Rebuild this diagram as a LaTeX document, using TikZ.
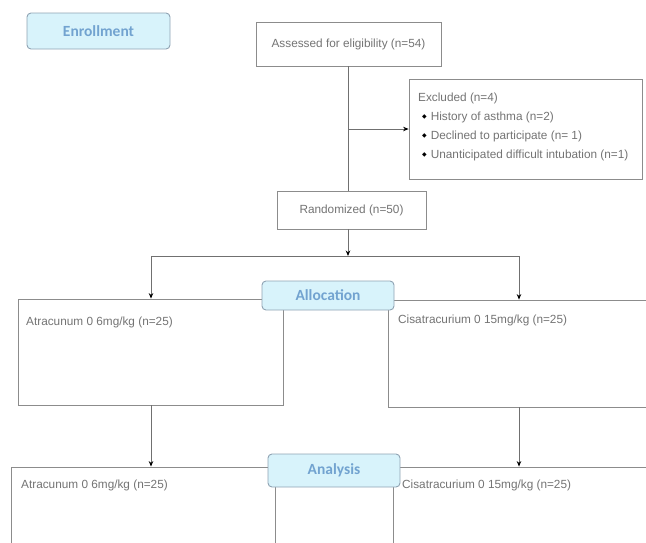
\documentclass[tikz,border=0pt]{standalone}
\usepackage{fontspec}
\setmainfont{Liberation Sans}
\newfontfamily\headfont{Carlito}
\newfontfamily\symfont{DejaVu Sans}
\usetikzlibrary{arrows.meta}
\definecolor{boxline}{HTML}{8C8C8C}
\definecolor{boxtext}{HTML}{747474}
\definecolor{headfill}{HTML}{D8F3FB}
\definecolor{headline}{HTML}{8FA3B3}
\definecolor{headtext}{HTML}{72A3D0}
\newcommand{\exclmark}{\hspace{4pt}\raisebox{1.8pt}{\textcolor{black}{\symfont\fontsize{6}{7}\selectfont ◆}}\hspace{4pt}}
\begin{document}
\begin{tikzpicture}[x=1pt, y=-1pt]
	\tikzstyle{flowbox}=[draw=boxline, line width=0.8pt, fill=white, inner sep=0pt]
	\tikzstyle{headbox}=[draw=headline, line width=0.9pt, fill=headfill, rounded corners=4pt, inner sep=0pt, text=headtext, font=\headfont\bfseries\fontsize{15.5}{18}\selectfont]
	\tikzstyle{boxlabel}=[text=boxtext, font=\fontsize{11.8}{14}\selectfont, inner sep=0pt, anchor=west]
	\tikzstyle{link}=[draw=boxline!80!black, line width=0.8pt]
	\tikzstyle{arrowlink}=[link, -{Stealth[length=5.5pt, width=4.5pt, black]}]
	\useasboundingbox (0,0) rectangle (646,542);
	\clip (0,0) rectangle (646,542);
	\draw 
	node[headbox, minimum width=143pt, minimum height=36pt](enroll)at(98.5,31){Enrollment}
	node[flowbox, minimum width=185pt, minimum height=44pt, text=boxtext, font=\fontsize{11.8}{14}\selectfont](assess)at(348.5,44){Assessed for eligibility (n=54)}
	node[flowbox, minimum width=233pt, minimum height=100pt](excl)at(525.5,129){}
	node[flowbox, minimum width=149pt, minimum height=38pt, text=boxtext, font=\fontsize{11.8}{14}\selectfont](rand)at(351.5,210){Randomized (n=50)};
	
	% excluded list
	\node[boxlabel, align=left](exclText)at(418,127){Excluded (n=4)\\[4.8pt]
		\exclmark History of asthma (n=2)\\[4.8pt]
		\exclmark Declined to participate (n= 1)\\[4.8pt]
		\exclmark Unanticipated difficult intubation (n=1)};
	
	\coordinate (split) at (348,256);
	\coordinate (splitL) at (151,256);
	\coordinate (splitR) at (519,256);
	\coordinate (exclsplit) at (split |- excl.west);
	
	\draw 
	node[flowbox, minimum width=265pt, minimum height=106pt](atraA)at(150.5,352){}
	node[flowbox, minimum width=272pt, minimum height=107pt](cisA)at(524,353.5){}
	node[flowbox, minimum width=264pt, minimum height=100pt](atraB)at(143,517){}
	node[flowbox, minimum width=267pt, minimum height=100pt](cisB)at(526.5,517){};
	
	\node[boxlabel](atraAText)at(26,322){Atracunum 0 6mg/kg (n=25)};
	\node[boxlabel](cisAText)at(398,320){Cisatracurium 0 15mg/kg (n=25)};
	\node[boxlabel](atraBText)at(21,485){Atracunum 0 6mg/kg (n=25)};
	\node[boxlabel](cisBText)at(402,485){Cisatracurium 0 15mg/kg (n=25)};
	
	\draw
	node[headbox, minimum width=132pt, minimum height=29pt](alloc)at(328,295.5){Allocation}
	node[headbox, minimum width=132pt, minimum height=33pt](analysis)at(334,470.5){Analysis};
	
	\draw[link](assess.south -| split)--(rand.north -| split);
	\draw[arrowlink](exclsplit)--(excl.west);
	\draw[arrowlink](rand.south -| split)--(split);
	\draw[link](splitL)--(splitR);
	\draw[arrowlink](splitL)--(atraA.north -| splitL);
	\draw[arrowlink](splitR)--(cisA.north -| splitR);
	\draw[arrowlink](atraA.south -| splitL)--(atraB.north -| splitL);
	\draw[arrowlink](cisA.south -| splitR)--(cisB.north -| splitR);
\end{tikzpicture}
\end{document}
